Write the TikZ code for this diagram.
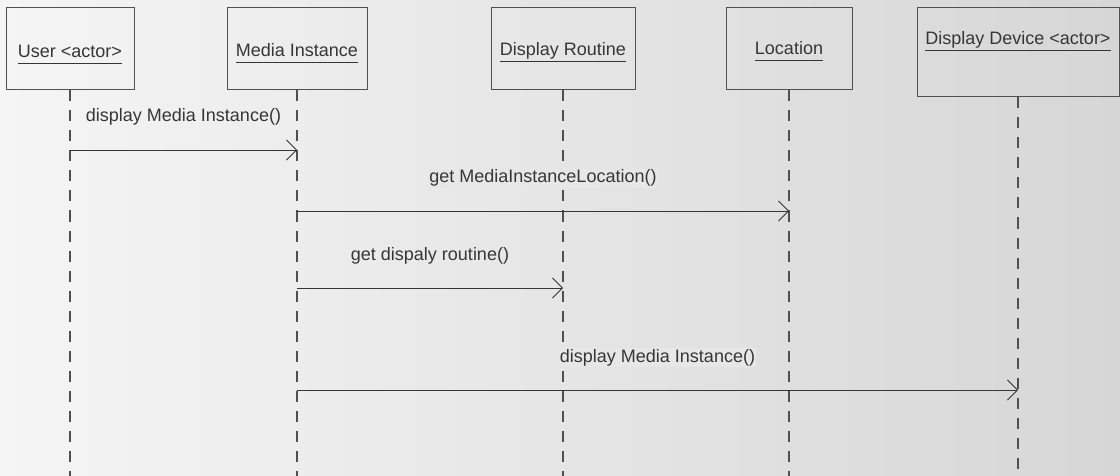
\documentclass[tikz,border=0pt]{standalone}
\usepackage{fontspec}
\setmainfont{Liberation Sans}
\usetikzlibrary{arrows.meta,positioning}
\definecolor{ink}{HTML}{363636}
\definecolor{edge}{HTML}{505050}
\definecolor{paperL}{HTML}{F5F5F5}
\definecolor{paperM}{HTML}{E7E7E7}
\definecolor{paperR}{HTML}{D6D6D6}
\tikzset{
  obj/.style={rectangle, draw=edge, line width=1pt, inner sep=0pt, minimum height=82pt},
  oname/.style={inner sep=0pt, anchor=base, text=ink, font=\fontsize{18}{20}\selectfont},
  uline/.style={ink, line width=0.9pt},
  life/.style={edge, line width=1.1pt, dash pattern=on 11pt off 9pt},
  call/.style={-{Straight Barb[length=10pt, width=20pt]}, ink, line width=0.8pt},
  mlabel/.style={inner sep=1pt, anchor=base, yshift=28pt, text=ink, font=\fontsize{18}{20}\selectfont},
  over/.style={fill=paperM},
}
\newcommand{\msg}[6][]{%
  \draw[call] (#2 |- 0,#4) -- (#3 |- 0,#4) node[mlabel, midway, #1] (#5) {#6};}

\begin{document}
\begin{tikzpicture}[x=1pt, y=-1pt]
  \shade[left color=paperL, middle color=paperM, right color=paperR] (0,0) rectangle (1120,476);
  \useasboundingbox (0,0) rectangle (1120,476);
  \coordinate (bottom) at (0,476);
  % objects
  \node[obj, minimum width=128pt] (user) at (70,49) {};
  \node[obj, minimum width=140pt] (media) at (297,49) {};
  \node[obj, minimum width=144pt] (routine) at (563,49) {};
  \node[obj, minimum width=126pt] (loc) at (789,49) {};
  \node[obj, minimum width=202pt, minimum height=89pt] (device) at (1018,52.5) {};
  \node[oname] (userT) at (70,58) {User <actor>};
  \node[oname] (mediaT) at (297,57) {Media Instance};
  \node[oname] (routineT) at (563,56) {Display Routine};
  \node[oname] (locT) at (789,55) {Location};
  \node[oname] (deviceT) at (1018,45) {Display Device <actor>};
  \foreach \n in {userT,mediaT,routineT,locT,deviceT}
    \draw[uline] ([yshift=-5.5pt]\n.base west) -- ([yshift=-5.5pt]\n.base east);
  \foreach \n in {user,media,routine,loc,device}
    \draw[life] (\n.south) -- (\n.south |- bottom);
  % messages
  \msg{user}{media}{150}{m1}{display Media Instance()}
  \msg[over]{media}{loc}{211}{m2}{get MediaInstanceLocation()}
  \msg{media}{routine}{288}{m3}{get dispaly routine()}
  \msg[over]{media}{device}{390}{m4}{display Media Instance()}
\end{tikzpicture}
\end{document}
